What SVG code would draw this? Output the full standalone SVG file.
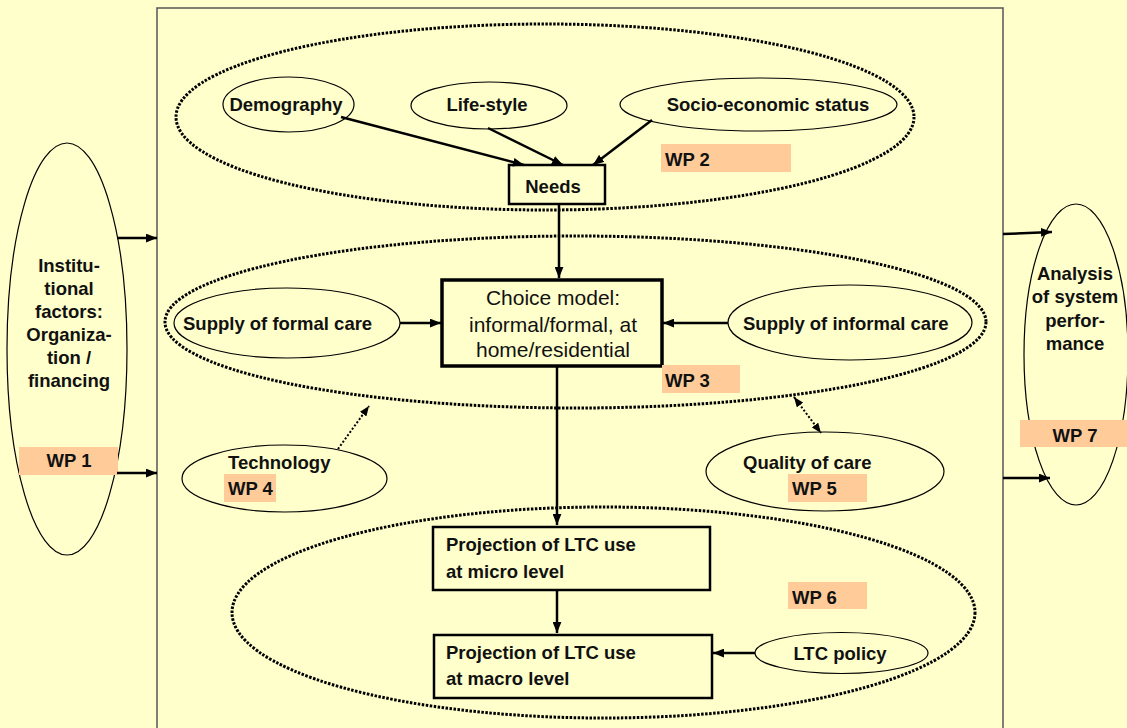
<svg xmlns="http://www.w3.org/2000/svg" width="1127" height="728" viewBox="0 0 1127 728">
<defs>
<style>
.t{font-family:"Liberation Sans",Arial,sans-serif;font-weight:bold;font-size:18.5px;fill:#111}
.tc{text-anchor:middle}
.n{font-family:"Liberation Sans",Arial,sans-serif;font-size:21px;fill:#111;text-anchor:middle}
.el{fill:none;stroke:#000;stroke-width:1.2}
.dot{fill:none;stroke:#000;stroke-width:3;stroke-dasharray:2.5 1.5}
.box{fill:none;stroke:#000;stroke-width:2.5}
.wp{fill:#FFCC99}
.ar{stroke:#000;stroke-width:2.5;fill:none;marker-end:url(#ah)}
.da{stroke:#000;stroke-width:2;fill:none;stroke-dasharray:2 2}
</style>
<marker id="ah" viewBox="0 0 10 8" refX="10" refY="4" markerWidth="11" markerHeight="9" markerUnits="userSpaceOnUse" orient="auto"><path d="M0,0 L10,4 L0,8 z" fill="#000"/></marker>
<marker id="sh" viewBox="0 0 10 8" refX="10" refY="4" markerWidth="10" markerHeight="8" markerUnits="userSpaceOnUse" orient="auto-start-reverse"><path d="M0,0 L10,4 L0,8 z" fill="#000"/></marker>
</defs>
<rect x="0" y="0" width="1127" height="728" fill="#FFFFCC"/>
<rect x="157" y="8" width="846" height="730" fill="#FFFFCC" stroke="#555" stroke-width="1.5"/>

<g id="groups">
<ellipse class="dot" cx="545" cy="117" rx="369" ry="93"/>
<ellipse class="dot" cx="575.5" cy="322" rx="410.5" ry="86"/>
<ellipse class="dot" cx="603.5" cy="612.5" rx="371.5" ry="105.5"/>
</g>

<g id="institutional">
<ellipse class="el" cx="67" cy="349" rx="60" ry="206"/>
<rect class="wp" x="19" y="447" width="99" height="28"/>
<text class="t tc" x="69" y="272">Institu-</text>
<text class="t tc" x="69" y="295">tional</text>
<text class="t tc" x="69" y="318">factors:</text>
<text class="t tc" x="69" y="341">Organiza-</text>
<text class="t tc" x="69" y="364">tion /</text>
<text class="t tc" x="69" y="387">financing</text>
<text class="t tc" x="69" y="467">WP 1</text>
</g>

<g id="analysis">
<ellipse class="el" cx="1076" cy="354.5" rx="52" ry="150.5"/>
<rect class="wp" x="1020" y="420" width="107" height="27"/>
<text class="t tc" x="1075" y="280">Analysis</text>
<text class="t tc" x="1075" y="303">of system</text>
<text class="t tc" x="1075" y="327">perfor-</text>
<text class="t tc" x="1075" y="350">mance</text>
<text class="t tc" x="1075" y="442">WP 7</text>
</g>

<g id="demography">
<ellipse class="el" cx="288.5" cy="104.5" rx="65.5" ry="27.5"/>
<text class="t tc" x="286" y="111">Demography</text>
</g>
<g id="lifestyle">
<ellipse class="el" cx="489" cy="105.5" rx="78" ry="23.5"/>
<text class="t tc" x="487" y="111">Life-style</text>
</g>
<g id="socio">
<ellipse class="el" cx="758.5" cy="104.5" rx="138.5" ry="26.5"/>
<text class="t tc" x="768" y="111">Socio-economic status</text>
</g>
<g id="wp2">
<rect class="wp" x="661" y="144" width="130" height="28"/>
<text class="t" x="665" y="166">WP 2</text>
</g>
<g id="needs">
<rect class="box" x="509" y="165" width="96" height="39"/>
<text class="t tc" x="553" y="193">Needs</text>
</g>

<g id="choice">
<rect x="442" y="280" width="220" height="86" fill="none" stroke="#000" stroke-width="3.5"/>
<text class="n" x="553" y="305">Choice model:</text>
<text class="n" x="553" y="332">informal/formal, at</text>
<text class="n" x="553" y="357">home/residential</text>
</g>
<g id="formal">
<ellipse class="el" cx="287" cy="323" rx="113" ry="35"/>
<text class="t" x="183" y="330">Supply of formal care</text>
</g>
<g id="informal">
<ellipse class="el" cx="850" cy="322.5" rx="122" ry="37.5"/>
<text class="t" x="743" y="330">Supply of informal care</text>
</g>
<g id="wp3">
<rect class="wp" x="662" y="365" width="78" height="28"/>
<text class="t" x="665" y="387">WP 3</text>
</g>

<g id="technology">
<ellipse class="el" cx="284.5" cy="478.5" rx="102.5" ry="33.5"/>
<rect class="wp" x="224" y="474" width="52" height="28"/>
<text class="t" x="228" y="469">Technology</text>
<text class="t" x="228" y="495">WP 4</text>
</g>
<g id="quality">
<ellipse class="el" cx="825" cy="471.5" rx="119" ry="39.5"/>
<rect class="wp" x="788" y="474" width="79" height="28"/>
<text class="t" x="743" y="469">Quality of care</text>
<text class="t" x="792" y="495">WP 5</text>
</g>

<g id="micro">
<rect class="box" x="433" y="527" width="277" height="63"/>
<text class="t" x="446" y="551">Projection of LTC use</text>
<text class="t" x="446" y="578">at micro level</text>
</g>
<g id="macro">
<rect class="box" x="434" y="635" width="278" height="63"/>
<text class="t" x="446" y="659">Projection of LTC use</text>
<text class="t" x="446" y="685">at macro level</text>
</g>
<g id="wp6">
<rect class="wp" x="788" y="582" width="79" height="27"/>
<text class="t" x="792" y="604">WP 6</text>
</g>
<g id="ltcpolicy">
<ellipse class="el" cx="841.5" cy="653" rx="86.5" ry="20.5"/>
<text class="t tc" x="840" y="660">LTC policy</text>
</g>

<g id="connectors">
<line class="ar" x1="117" y1="238" x2="157" y2="238"/>
<line class="ar" x1="117" y1="473" x2="157" y2="473"/>
<line class="ar" x1="1003" y1="234" x2="1052" y2="232"/>
<line class="ar" x1="1003" y1="478" x2="1050" y2="478"/>
<line class="ar" x1="341" y1="117" x2="524" y2="165"/>
<line class="ar" x1="488" y1="128" x2="563" y2="165"/>
<line class="ar" x1="652" y1="120" x2="593" y2="165"/>
<line class="ar" x1="559" y1="204" x2="559" y2="278"/>
<line class="ar" x1="400" y1="323" x2="441" y2="323"/>
<line class="ar" x1="728" y1="323" x2="663" y2="323"/>
<line class="ar" x1="557" y1="366" x2="557" y2="525"/>
<line class="ar" x1="557" y1="590" x2="557" y2="633"/>
<line class="ar" x1="755" y1="653" x2="713" y2="653"/>
<line class="da" x1="338" y1="449" x2="369" y2="406" marker-end="url(#sh)"/>
<line class="da" x1="794" y1="397" x2="821" y2="433" marker-start="url(#sh)" marker-end="url(#sh)"/>
</g>
</svg>
